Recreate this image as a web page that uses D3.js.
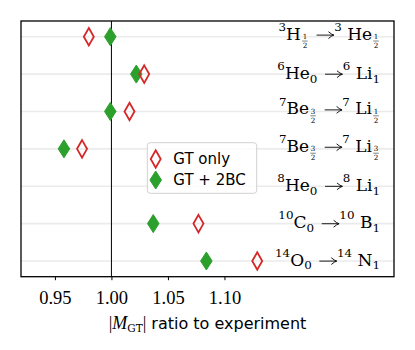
<!DOCTYPE html>
<html>
<head>
<meta charset="utf-8">
<script src="https://cdn.jsdelivr.net/npm/d3@7"></script>
<style>
  body { margin: 0; background: #fff; }
  svg { display: block; }
</style>
</head>
<body>
<div id="chart"></div>
<script>
// transitions, as label pieces: [kind, text] with kind n / sup / sub / frac / arrow
const transitions = [
  [["sup", "3"], ["n", "H"], ["frac", "1", "2"], ["arrow"], ["sup", "3"], ["n", "\u00a0He"], ["frac", "1", "2"]],
  [["sup", "6"], ["n", "He"], ["sub", "0"], ["arrow"], ["sup", "6"], ["n", "\u00a0Li"], ["sub", "1"]],
  [["sup", "7"], ["n", "Be"], ["frac", "3", "2"], ["arrow"], ["sup", "7"], ["n", "\u00a0Li"], ["frac", "1", "2"]],
  [["sup", "7"], ["n", "Be"], ["frac", "3", "2"], ["arrow"], ["sup", "7"], ["n", "\u00a0Li"], ["frac", "3", "2"]],
  [["sup", "8"], ["n", "He"], ["sub", "0"], ["arrow"], ["sup", "8"], ["n", "\u00a0Li"], ["sub", "1"]],
  [["sup", "10"], ["n", "C"], ["sub", "0"], ["arrow"], ["sup", "10"], ["n", "\u00a0B"], ["sub", "1"]],
  [["sup", "14"], ["n", "O"], ["sub", "0"], ["arrow"], ["sup", "14"], ["n", "\u00a0N"], ["sub", "1"]]
]
const rows = d3.range(transitions.length)

// |M_GT| ratio to experiment
const gtOnly = [0.980, 1.029, 1.016, 0.974, null, 1.077, 1.129]
const gt2bc  = [0.999, 1.022, 0.999, 0.958, null, 1.037, 1.084]

const xTicks = [0.95, 1.00, 1.05, 1.10]
const seriesNames = ["GT only", "GT + 2BC"]

const W = 415, H = 350
const MARGIN = { TOP: 21, BOTTOM: 73.3, LEFT: 21, RIGHT: 21 }
const RED = "#d62728", GREEN = "#2ca02c"
const SERIF = "'DejaVu Serif', serif"
const TICKSERIF = "'Liberation Serif', 'Times New Roman', serif"
const SANS = "'DejaVu Sans', sans-serif"

const svg = d3.select("#chart").append("svg")
  .attr("width", W)
  .attr("height", H)

const x = d3.scaleLinear()
  .domain([0.92, 1.25])
  .range([MARGIN.LEFT, W - MARGIN.RIGHT])

const y = d3.scalePoint()
  .domain(rows)
  .range([MARGIN.TOP, H - MARGIN.BOTTOM])
  .padding(0.42)

// light horizontal grid
svg.append("g").selectAll("line")
  .data(rows)
  .enter().append("line")
    .attr("x1", x.range()[0])
    .attr("x2", x.range()[1])
    .attr("y1", d => y(d))
    .attr("y2", d => y(d))
    .attr("stroke", "#ebebeb")
    .attr("stroke-width", 1.6)

// reference line at 1
svg.append("line")
  .attr("x1", x(1)).attr("x2", x(1))
  .attr("y1", MARGIN.TOP).attr("y2", H - MARGIN.BOTTOM)
  .attr("stroke", "#000")
  .attr("stroke-width", 1)

const diamond = (w, h) => `M0,${-h / 2}L${w / 2},0L0,${h / 2}L${-w / 2},0Z`

function redMarker(sel) {
  sel.attr("d", diamond(10, 17.5))
    .attr("fill", "none")
    .attr("stroke", RED)
    .attr("stroke-width", 1.8)
}
function greenMarker(sel) {
  sel.attr("d", diamond(11.5, 18))
    .attr("fill", GREEN)
    .attr("stroke", GREEN)
    .attr("stroke-width", 1)
}

svg.append("g").selectAll("path")
  .data(rows.filter(i => gt2bc[i] != null))
  .enter().append("path")
    .attr("transform", i => `translate(${x(gt2bc[i])},${y(i)})`)
    .call(greenMarker)

svg.append("g").selectAll("path")
  .data(rows.filter(i => gtOnly[i] != null))
  .enter().append("path")
    .attr("transform", i => `translate(${x(gtOnly[i])},${y(i)})`)
    .call(redMarker)

// builds a math-ish label out of pieces and returns its width
// piece: [kind, text, family, style, size]
function buildPieces(g, parts, size) {
  let cx = 0
  parts.forEach(p => {
    const kind = p[0]
    if (kind === "frac") {
      const fs = size * 0.42
      const num = g.append("text").attr("font-size", fs).attr("font-family", SERIF)
        .attr("y", -0.4).attr("fill", "#000").text(p[1])
      const den = g.append("text").attr("font-size", fs).attr("font-family", SERIF)
        .attr("y", size * 0.49).attr("fill", "#000").text(p[2])
      const fw = Math.max(num.node().getComputedTextLength(), den.node().getComputedTextLength()) + 1
      cx += 1.2
      num.attr("x", cx + fw / 2).attr("text-anchor", "middle")
      den.attr("x", cx + fw / 2).attr("text-anchor", "middle")
      g.append("line")
        .attr("x1", cx).attr("x2", cx + fw)
        .attr("y1", size * 0.08).attr("y2", size * 0.08)
        .attr("stroke", "#000").attr("stroke-width", 0.5)
      cx += fw + 1.2
    } else if (kind === "arrow") {
      const aw = size * 1.02, ay = -size * 0.27
      cx += size * 0.45
      g.append("path")
        .attr("d", `M${cx},${ay}H${cx + aw}` +
          `M${cx + aw - size * 0.32},${ay - size * 0.2}Q${cx + aw - size * 0.12},${ay - size * 0.03} ${cx + aw},${ay}` +
          `Q${cx + aw - size * 0.12},${ay + size * 0.03} ${cx + aw - size * 0.32},${ay + size * 0.2}`)
        .attr("fill", "none")
        .attr("stroke", "#000")
        .attr("stroke-width", 0.9)
      cx += aw + 0.3
    } else {
      const t = g.append("text")
        .attr("font-family", p[2] || SERIF)
        .attr("x", cx)
        .attr("fill", "#000")
        .text(p[1])
      if (kind === "sup") t.attr("font-size", size * 0.7).attr("y", -size * 0.52)
      else if (kind === "sub") t.attr("font-size", size * 0.7).attr("y", size * 0.22)
      else t.attr("font-size", p[4] || size).attr("y", 0)
      if (p[3]) t.attr("font-style", p[3])
      cx += t.node().getComputedTextLength()
    }
  })
  return cx
}

const LABEL_SIZE = 17
const labelRight = 380
transitions.forEach((parts, i) => {
  const g = svg.append("g")
  const w = buildPieces(g, parts, LABEL_SIZE)
  const hasFrac = parts.some(p => p[0] === "frac")
  const baseline = y(i) + (hasFrac ? 3 : 4.7)
  g.attr("transform", `translate(${labelRight - w},${baseline})`)
})

// bottom axis
const xAxisGroup = svg.append("g")
  .attr("transform", `translate(0,${H - MARGIN.BOTTOM})`)
  .call(d3.axisBottom(x).tickValues(xTicks).tickFormat(d3.format(".2f")).tickSize(3.5).tickSizeOuter(0))
xAxisGroup.select(".domain").remove()
xAxisGroup.selectAll(".tick line").attr("stroke", "#000").attr("stroke-width", 1)
xAxisGroup.selectAll(".tick text")
  .attr("y", 27.3)
  .attr("dy", null)
  .attr("font-family", TICKSERIF)
  .attr("font-size", 18.5)
  .attr("fill", "#000")

// x label: |M_GT| ratio to experiment
const xl = svg.append("g")
const xlw = buildPieces(xl, [
  ["n", "|", TICKSERIF, null, 18], ["n", "M", TICKSERIF, "italic", 18], ["sub", "GT"], ["n", "|", TICKSERIF, null, 18],
  ["n", "\u00a0ratio to experiment", SANS, null, 16]
], 15)
xl.attr("transform", `translate(${(x.range()[0] + x.range()[1]) / 2 - xlw / 2},329)`)

// frame
svg.append("rect")
  .attr("x", MARGIN.LEFT)
  .attr("y", MARGIN.TOP)
  .attr("width", W - MARGIN.LEFT - MARGIN.RIGHT)
  .attr("height", H - MARGIN.TOP - MARGIN.BOTTOM)
  .attr("fill", "none")
  .attr("stroke", "#000")
  .attr("stroke-width", 1.3)

// legend
const legend = svg.append("g").attr("transform", "translate(147.3,142.7)")
legend.append("rect")
  .attr("width", 109.4)
  .attr("height", 50.6)
  .attr("rx", 3)
  .attr("fill", "#fff")
  .attr("fill-opacity", 0.8)
  .attr("stroke", "#d0d0d0")
  .attr("stroke-width", 1)
seriesNames.forEach((name, i) => {
  const yy = 16.3 + i * 21
  legend.append("path")
    .attr("transform", `translate(8.4,${yy})`)
    .call(i === 0 ? redMarker : greenMarker)
  legend.append("text")
    .attr("x", 26)
    .attr("y", yy + 5.2)
    .attr("font-family", SANS)
    .attr("font-size", 15)
    .text(name)
})
</script>
</body>
</html>
